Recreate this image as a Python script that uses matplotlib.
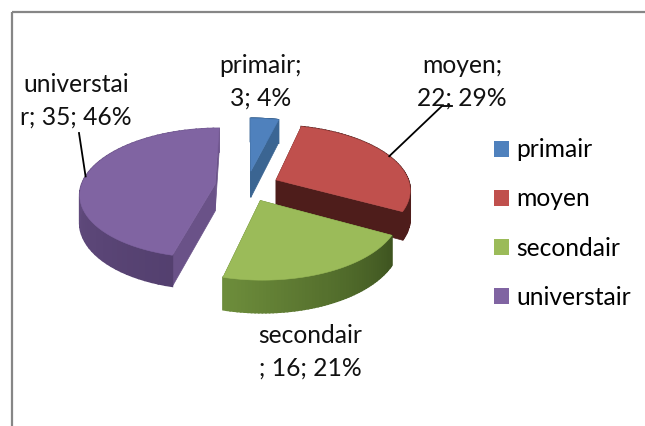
import numpy as np
import matplotlib
matplotlib.use("Agg")
import matplotlib.pyplot as plt
from matplotlib.colors import to_rgb
from matplotlib.patches import Patch, Polygon

categories = ["primair", "moyen", "secondair", "universtair"]
values = [3, 22, 16, 35]
percents = [4, 29, 21, 46]

top_colors = ["#4f81bd", "#c0504d", "#9bbb59", "#8064a2"]
# rim colour at the start and the end of each slice (clockwise)
rim_start = ["#3a6594", "#5a211e", "#3e5420", "#54406f"]
rim_end = ["#3a6594", "#4e1d1b", "#6d8d3b", "#70578f"]
cut_colors = ["#3b6592", "#4e1d1b", "#5d7a30", "#6a5288"]

plt.rcParams["font.family"] = ["Lato", "DejaVu Sans"]

# pie projection, in pixels
cx, cy = 247, 186
rx, ry = 134, 64
persp = 0.14
depth = 27
explode = 0.24


def project(x, y, z=0):
    s = 1 + persp * y
    return cx + rx * x / s, cy - ry * y / s + z / s


fig = plt.figure(figsize=(6.45, 4.26), dpi=100)
ax = fig.add_axes([0, 0, 1, 1])
ax.set_xlim(0, 645)
ax.set_ylim(426, 0)
ax.axis("off")

# chart frame
ax.plot([12, 12], [426, 12], color="#868686", lw=1.6, solid_capstyle="butt")
ax.plot([12, 645], [12, 12], color="#868686", lw=1.6, solid_capstyle="butt")

fractions = np.array(values) / sum(values)
ends = np.cumsum(fractions) * 2 * np.pi
starts = ends - fractions * 2 * np.pi
mids = (starts + ends) / 2

# back to front
for i in [0, 1, 3, 2]:
    ox = explode * np.sin(mids[i])
    oy = explode * np.cos(mids[i])
    th = np.linspace(starts[i], ends[i], 60)
    xs = ox + np.sin(th)
    ys = oy + np.cos(th)

    # flat cut faces
    for a in [starts[i], ends[i]]:
        p1 = project(ox, oy)
        p2 = project(ox + np.sin(a), oy + np.cos(a))
        p3 = project(ox + np.sin(a), oy + np.cos(a), depth)
        p4 = project(ox, oy, depth)
        ax.add_patch(Polygon([p1, p2, p3, p4], fc=cut_colors[i], ec=cut_colors[i], lw=0.5))

    # curved rim, shaded along the arc
    c0 = np.array(to_rgb(rim_start[i]))
    c1 = np.array(to_rgb(rim_end[i]))
    for j in range(len(th) - 1):
        t = j / (len(th) - 2)
        col = c0 + (c1 - c0) * t
        quad = [project(xs[j], ys[j]), project(xs[j + 1], ys[j + 1]),
                project(xs[j + 1], ys[j + 1], depth), project(xs[j], ys[j], depth)]
        ax.add_patch(Polygon(quad, fc=col, ec=col, lw=1.2))

    # top surface
    outline = [project(ox, oy)] + [project(x, y) for x, y in zip(xs, ys)]
    ax.add_patch(Polygon(outline, fc=top_colors[i], ec=top_colors[i], lw=0.4))

# data labels
label_font = 17.7
ax.text(76, 101, "universtai\nr; %d; %d%%" % (values[3], percents[3]), ha="center", va="center",
        fontsize=label_font, linespacing=1.52, color="#111111")
ax.text(261, 82, "%s;\n%d; %d%%" % (categories[0], values[0], percents[0]), ha="center", va="center",
        fontsize=label_font, linespacing=1.52, color="#111111")
ax.text(462, 82, "%s;\n%d; %d%%" % (categories[1], values[1], percents[1]), ha="center", va="center",
        fontsize=label_font, linespacing=1.52, color="#111111")
ax.text(310, 352, "%s\n; %d; %d%%" % (categories[2], values[2], percents[2]), ha="center", va="center",
        fontsize=label_font, linespacing=1.52, color="#111111")

# leader lines start on the rim at the middle of the slice
for i, path in [(3, [(79, 133)]), (1, [(442, 106), (452, 106)])]:
    ox = (explode + 1) * np.sin(mids[i])
    oy = (explode + 1) * np.cos(mids[i])
    x0, y0 = project(ox, oy)
    pts = [(x0, y0)] + path
    ax.plot([p[0] for p in pts], [p[1] for p in pts], color="black", lw=1.3)

handles = [Patch(fc=c, ec="none") for c in top_colors]
ax.legend(handles, categories, loc="center left", bbox_to_anchor=(494 / 645, 1 - 223.5 / 426),
          frameon=False, fontsize=label_font, labelspacing=1.06, handlelength=0.6,
          handleheight=0.6, handletextpad=0.3, borderpad=0, borderaxespad=0)

fig.savefig("out.png", dpi=100)
